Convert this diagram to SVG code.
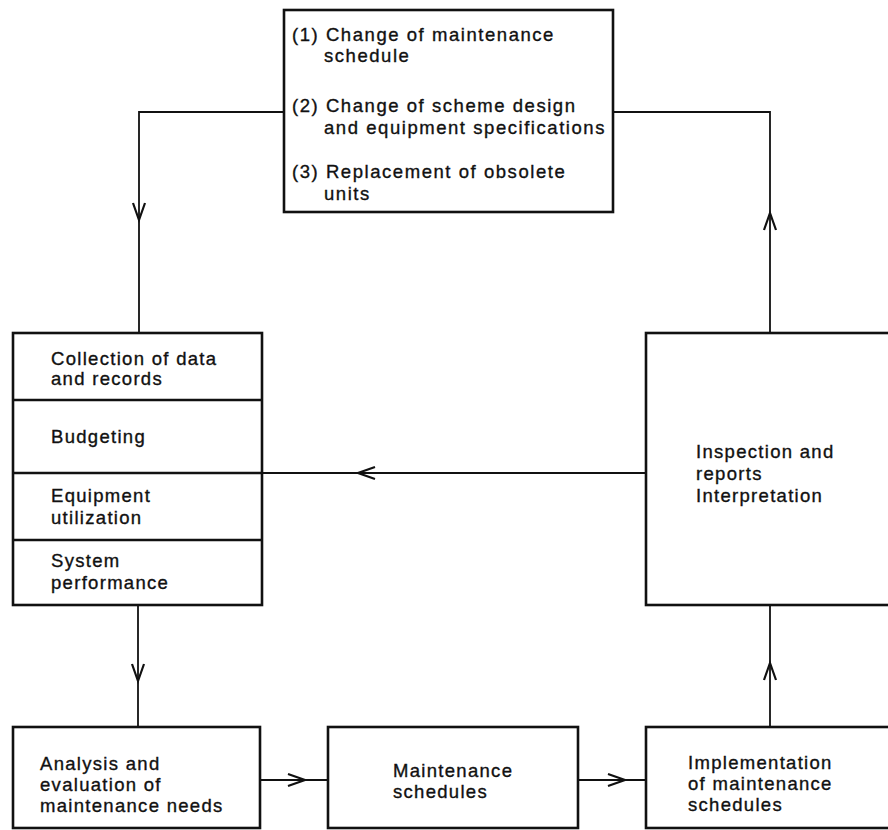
<svg xmlns="http://www.w3.org/2000/svg" xmlns:xlink="http://www.w3.org/1999/xlink" width="888" height="830" viewBox="0 0 888 830">
<style>
  .box{fill:#fff;stroke:#111;stroke-width:2.6}
  .div{stroke:#111;stroke-width:2.4;fill:none}
  .con{fill:none;stroke:#111;stroke-width:1.8}
  .ah{fill:none;stroke:#111;stroke-width:2.2;stroke-linejoin:miter}
  text{font-family:"Liberation Sans",Arial,Helvetica,sans-serif;font-size:18.5px;letter-spacing:1.3px;fill:#111;stroke:#111;stroke-width:0.35}
  .top{letter-spacing:1.55px}
</style>
<defs>
  <path id="ah" class="ah" d="M-6,-17 L0,0 L6,-17"/>
</defs>
<rect width="888" height="830" fill="#fff"/>
<g id="connectors">
  <path class="con" d="M284,112 H139 V333"/>
  <path class="con" d="M138,605 V727"/>
  <path class="con" d="M260,780 H328"/>
  <path class="con" d="M578,780 H646"/>
  <path class="con" d="M770,727 V605"/>
  <path class="con" d="M770,333 V112 H613"/>
  <path class="con" d="M646,473 H262"/>
  <use xlink:href="#ah" href="#ah" transform="translate(139,220)"/>
  <use xlink:href="#ah" href="#ah" transform="translate(138,681)"/>
  <use xlink:href="#ah" href="#ah" transform="translate(305,780) rotate(-90)"/>
  <use xlink:href="#ah" href="#ah" transform="translate(625,780) rotate(-90)"/>
  <use xlink:href="#ah" href="#ah" transform="translate(770,663) rotate(180)"/>
  <use xlink:href="#ah" href="#ah" transform="translate(770,213) rotate(180)"/>
  <use xlink:href="#ah" href="#ah" transform="translate(358,473) rotate(90)"/>
</g>
<g id="actions">
  <rect class="box" x="284" y="10" width="329" height="202"/>
  <text class="top" x="292" y="41">(1) Change of maintenance</text>
  <text class="top" x="324" y="62">schedule</text>
  <text class="top" x="292" y="112">(2) Change of scheme design</text>
  <text class="top" x="324" y="134">and equipment specifications</text>
  <text class="top" x="292" y="178">(3) Replacement of obsolete</text>
  <text class="top" x="324" y="200">units</text>
</g>
<g id="data-stack">
  <rect class="box" x="13" y="333" width="249" height="272"/>
  <path class="div" d="M13,400 H262 M13,473 H262 M13,540 H262"/>
  <text x="51" y="365">Collection of data</text>
  <text x="51" y="385">and records</text>
  <text x="51" y="443">Budgeting</text>
  <text x="51" y="502">Equipment</text>
  <text x="51" y="524">utilization</text>
  <text x="51" y="567">System</text>
  <text x="51" y="589">performance</text>
</g>
<g id="inspection">
  <rect class="box" x="646" y="333" width="250" height="272"/>
  <text x="696" y="458">Inspection and</text>
  <text x="696" y="480">reports</text>
  <text x="696" y="502">Interpretation</text>
</g>
<g id="analysis">
  <rect class="box" x="13" y="727" width="247" height="101"/>
  <text x="40" y="770">Analysis and</text>
  <text x="40" y="791">evaluation of</text>
  <text x="40" y="812">maintenance needs</text>
</g>
<g id="schedules">
  <rect class="box" x="328" y="727" width="250" height="101"/>
  <text x="393" y="777">Maintenance</text>
  <text x="393" y="798">schedules</text>
</g>
<g id="implementation">
  <rect class="box" x="646" y="727" width="250" height="101"/>
  <text x="688" y="769">Implementation</text>
  <text x="688" y="790">of maintenance</text>
  <text x="688" y="811">schedules</text>
</g>
</svg>
